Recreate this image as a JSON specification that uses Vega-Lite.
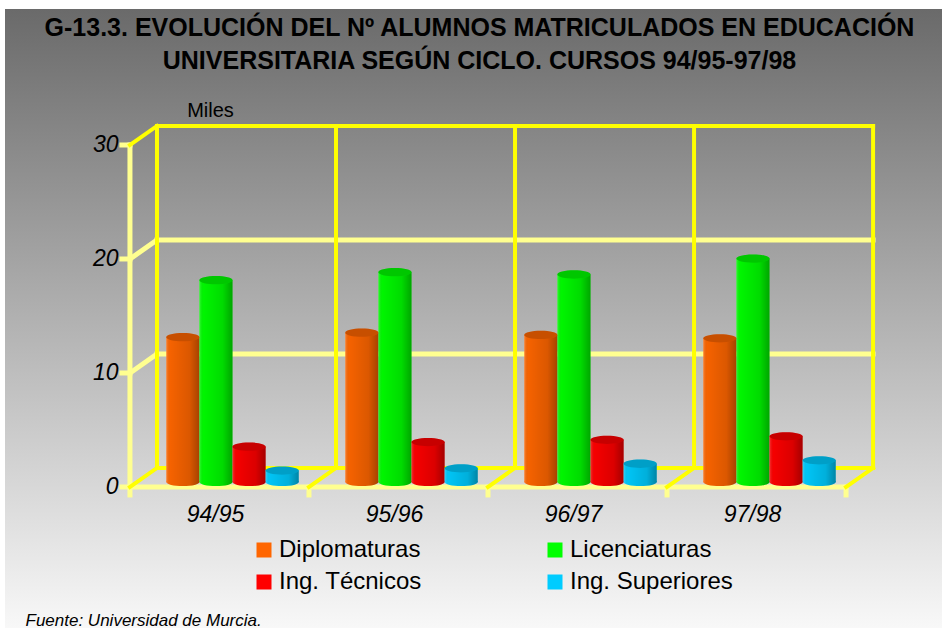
{
  "$schema": "https://vega.github.io/schema/vega-lite/v6.json",
  "width": 937,
  "height": 619,
  "autosize": {"type": "none"},
  "padding": {"left": 5, "top": 9, "right": 0, "bottom": 0},
  "background": "white",
  "config": {
    "view": {
      "stroke": null,
      "fill": {"gradient": "linear", "x1": 0, "y1": 0, "x2": 0, "y2": 1,
        "stops": [{"offset": 0, "color": "#6a6a6a"}, {"offset": 1, "color": "#f8f8f8"}]}
    },
    "font": "Liberation Sans"
  },
  "title": {
    "text": ["G-13.3. EVOLUCIÓN DEL Nº ALUMNOS MATRICULADOS EN EDUCACIÓN", "UNIVERSITARIA SEGÚN CICLO. CURSOS 94/95-97/98"],
    "font": "Liberation Sans",
    "fontSize": 25,
    "fontWeight": "bold",
    "color": "black",
    "anchor": "middle",
    "offset": -65,
    "lineHeight": 33,
    "dx": 6
  },
  "datasets": {
    "alumnos": [
      {"curso": "94/95", "ciclo": "Diplomaturas", "valor": 12.7},
      {"curso": "94/95", "ciclo": "Licenciaturas", "valor": 17.7},
      {"curso": "94/95", "ciclo": "Ing. Técnicos", "valor": 3.1},
      {"curso": "94/95", "ciclo": "Ing. Superiores", "valor": 1.0},
      {"curso": "95/96", "ciclo": "Diplomaturas", "valor": 13.1},
      {"curso": "95/96", "ciclo": "Licenciaturas", "valor": 18.4},
      {"curso": "95/96", "ciclo": "Ing. Técnicos", "valor": 3.5},
      {"curso": "95/96", "ciclo": "Ing. Superiores", "valor": 1.2},
      {"curso": "96/97", "ciclo": "Diplomaturas", "valor": 12.9},
      {"curso": "96/97", "ciclo": "Licenciaturas", "valor": 18.2},
      {"curso": "96/97", "ciclo": "Ing. Técnicos", "valor": 3.7},
      {"curso": "96/97", "ciclo": "Ing. Superiores", "valor": 1.6},
      {"curso": "97/98", "ciclo": "Diplomaturas", "valor": 12.6},
      {"curso": "97/98", "ciclo": "Licenciaturas", "valor": 19.6},
      {"curso": "97/98", "ciclo": "Ing. Técnicos", "valor": 4.0},
      {"curso": "97/98", "ciclo": "Ing. Superiores", "valor": 1.9}
    ],
    "gridBright": [
      {"x0": 0, "y0": 31.23, "x1": 4, "y1": 31.23},
      {"x0": 0, "y0": 1.23, "x1": 4, "y1": 1.23},
      {"x0": 0, "y0": 1.23, "x1": 0, "y1": 31.23},
      {"x0": 1, "y0": 1.23, "x1": 1, "y1": 31.23},
      {"x0": 2, "y0": 1.23, "x1": 2, "y1": 31.23},
      {"x0": 3, "y0": 1.23, "x1": 3, "y1": 31.23},
      {"x0": 4, "y0": 1.23, "x1": 4, "y1": 31.23},
      {"x0": 0, "y0": 1.23, "x1": -0.151, "y1": -0.44},
      {"x0": 1, "y0": 1.23, "x1": 0.849, "y1": -0.44},
      {"x0": 2, "y0": 1.23, "x1": 1.849, "y1": -0.44},
      {"x0": 3, "y0": 1.23, "x1": 2.849, "y1": -0.44},
      {"x0": 4, "y0": 1.23, "x1": 3.849, "y1": -0.44},
      {"x0": 0, "y0": 31.23, "x1": -0.151, "y1": 29.56}
    ],
    "gridPale": [
      {"x0": 0, "y0": 11.23, "x1": 4, "y1": 11.23},
      {"x0": 0, "y0": 21.23, "x1": 4, "y1": 21.23},
      {"x0": 0, "y0": 11.23, "x1": -0.151, "y1": 9.56},
      {"x0": 0, "y0": 21.23, "x1": -0.151, "y1": 19.56},
      {"x0": -0.151, "y0": -0.44, "x1": -0.151, "y1": 29.56},
      {"x0": -0.151, "y0": -0.44, "x1": 3.849, "y1": -0.44},
      {"x0": -0.151, "y0": -0.44, "x1": -0.196, "y1": -0.44},
      {"x0": -0.151, "y0": 9.56, "x1": -0.196, "y1": 9.56},
      {"x0": -0.151, "y0": 19.56, "x1": -0.196, "y1": 19.56},
      {"x0": -0.151, "y0": 29.56, "x1": -0.196, "y1": 29.56},
      {"x0": -0.151, "y0": -0.44, "x1": -0.151, "y1": -1.14},
      {"x0": 0.849, "y0": -0.44, "x1": 0.849, "y1": -1.14},
      {"x0": 1.849, "y0": -0.44, "x1": 1.849, "y1": -1.14},
      {"x0": 2.849, "y0": -0.44, "x1": 2.849, "y1": -1.14},
      {"x0": 3.849, "y0": -0.44, "x1": 3.849, "y1": -1.14}
    ]
  },
  "resolve": {"scale": {"x": "independent", "y": "independent"}},
  "layer": [
    {
      "data": {"name": "gridPale"},
      "mark": {"type": "rule", "color": "#ffff90", "strokeWidth": 5, "strokeCap": "square"},
      "encoding": {
        "x": {"field": "x0", "type": "quantitative", "scale": {"domain": [-0.849, 4.385], "nice": false, "zero": false}, "axis": null},
        "x2": {"field": "x1"},
        "y": {"field": "y0", "type": "quantitative", "scale": {"domain": [-12.81, 41.49], "nice": false, "zero": false}, "axis": null},
        "y2": {"field": "y1"}
      }
    },
    {
      "data": {"name": "gridBright"},
      "mark": {"type": "rule", "color": "#ffff00", "strokeWidth": 4, "strokeCap": "square"},
      "encoding": {
        "x": {"field": "x0", "type": "quantitative", "scale": {"domain": [-0.849, 4.385], "nice": false, "zero": false}, "axis": null},
        "x2": {"field": "x1"},
        "y": {"field": "y0", "type": "quantitative", "scale": {"domain": [-12.81, 41.49], "nice": false, "zero": false}, "axis": null},
        "y2": {"field": "y1"}
      }
    },
    {
      "data": {"name": "alumnos"},
      "encoding": {
        "x": {
          "field": "curso", "type": "nominal", "sort": null,
          "scale": {"range": [138, 854], "paddingInner": 0.26, "paddingOuter": 0.13},
          "axis": {
            "orient": "bottom", "offset": -127, "domain": false, "ticks": false, "grid": false,
            "labelAngle": 0, "labelPadding": 2, "labelOffset": -17,
            "labelFont": "Liberation Sans", "labelFontSize": 23, "labelFontStyle": "italic", "labelColor": "black",
            "title": "Fuente: Universidad de Murcia.", "titleX": 20, "titleY": 119,
            "titleAlign": "left", "titleAnchor": "start", "titleBaseline": "middle",
            "titleFont": "Liberation Sans", "titleFontSize": 17, "titleFontStyle": "italic", "titleFontWeight": "normal", "titleColor": "black"
          }
        },
        "xOffset": {
          "field": "ciclo", "type": "nominal",
          "sort": ["Diplomaturas", "Licenciaturas", "Ing. Técnicos", "Ing. Superiores"],
          "scale": {"paddingInner": 0, "paddingOuter": 0}
        }
      },
      "layer": [
        {
          "mark": {"type": "point", "shape": "M-1,0A1,0.25,0,1,1,1,0A1,0.25,0,1,1,-1,0Z", "size": 1100, "filled": true, "opacity": 1, "strokeWidth": 0},
          "encoding": {
            "y": {"datum": 0, "type": "quantitative", "scale": {"domain": [-12.81, 41.49], "nice": false, "zero": false}},
            "color": {"field": "ciclo", "type": "nominal",
              "scale": {"domain": ["Diplomaturas", "Licenciaturas", "Ing. Técnicos", "Ing. Superiores"], "range": ["#ff6600", "#00ff00", "#ff0000", "#00ccff"]},
              "legend": {
                "orient": "none", "legendX": 247, "legendY": 529, "direction": "horizontal", "columns": 2, "columnPadding": 121, "rowPadding": 8,
                "padding": 0, "symbolType": "square", "symbolSize": 225, "symbolStrokeWidth": 0, "symbolOpacity": 1,
                "labelFont": "Liberation Sans", "labelFontSize": 24, "labelColor": "black", "labelOffset": 3, "labelLimit": 400,
                "title": null
              }}
          }
        },
        {
          "mark": {"type": "point", "shape": "M-1,0A1,0.25,0,1,1,1,0A1,0.25,0,1,1,-1,0Z", "size": 1100, "filled": true, "opacity": 1, "strokeWidth": 0,
            "fill": {"gradient": "linear", "x1": 0, "y1": 0, "x2": 1, "y2": 0,
              "stops": [{"offset": 0, "color": "rgba(255,255,255,0.2)"}, {"offset": 0.12, "color": "rgba(0,0,0,0.04)"}, {"offset": 0.7, "color": "rgba(0,0,0,0.14)"}, {"offset": 1, "color": "rgba(0,0,0,0.35)"}]}},
          "encoding": {
            "y": {"datum": 0, "type": "quantitative"}
          }
        },
        {
          "mark": {"type": "bar"},
          "encoding": {
            "y": {"field": "valor", "type": "quantitative",
              "scale": {"domain": [-12.81, 41.49], "nice": false, "zero": false},
              "axis": {
                "orient": "left", "offset": -115, "values": [0, 10, 20, 30], "domain": false, "ticks": false, "grid": false,
                "labelPadding": 2, "labelOffset": 5,
                "labelFont": "Liberation Sans", "labelFontSize": 23, "labelFontStyle": "italic", "labelColor": "black",
                "title": "Miles", "titleAngle": 0, "titleX": 90, "titleY": 101, "titleAlign": "center", "titleBaseline": "middle",
                "titleFont": "Liberation Sans", "titleFontSize": 20, "titleFontWeight": "normal", "titleColor": "black"
              }},
            "y2": {"datum": 0},
            "color": {"field": "ciclo", "type": "nominal"}
          }
        },
        {
          "mark": {"type": "bar",
            "fill": {"gradient": "linear", "x1": 0, "y1": 0, "x2": 1, "y2": 0,
              "stops": [{"offset": 0, "color": "rgba(255,255,255,0.2)"}, {"offset": 0.12, "color": "rgba(0,0,0,0.04)"}, {"offset": 0.7, "color": "rgba(0,0,0,0.14)"}, {"offset": 1, "color": "rgba(0,0,0,0.35)"}]}},
          "encoding": {
            "y": {"field": "valor", "type": "quantitative"},
            "y2": {"datum": 0}
          }
        },
        {
          "mark": {"type": "point", "shape": "M-1,0A1,0.25,0,1,1,1,0A1,0.25,0,1,1,-1,0Z", "size": 1100, "filled": true, "opacity": 1, "strokeWidth": 0},
          "encoding": {
            "y": {"field": "valor", "type": "quantitative"},
            "color": {"field": "ciclo", "type": "nominal"}
          }
        },
        {
          "mark": {"type": "point", "shape": "M-1,0A1,0.25,0,1,1,1,0A1,0.25,0,1,1,-1,0Z", "size": 1100, "filled": true, "strokeWidth": 0, "fill": "black", "opacity": 0.22},
          "encoding": {
            "y": {"field": "valor", "type": "quantitative"}
          }
        }
      ]
    }
  ]
}
